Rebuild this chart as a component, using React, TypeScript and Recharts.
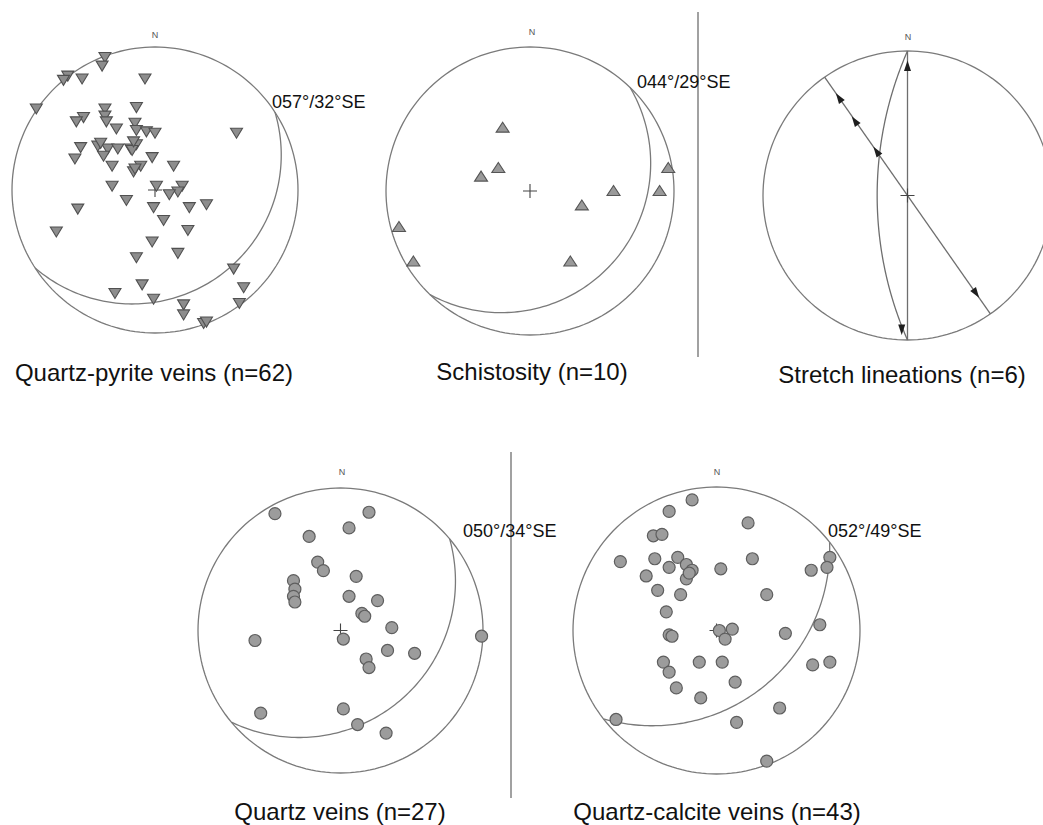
import React from 'react';
import { ScatterChart, Scatter, XAxis, YAxis } from 'recharts';

type P = [number, number];

// Poles / lineations, in percent of the net radius (x = east, y = north)
const quartzPyritePoles: P[] = [
  [-35, 93], [-37, 87], [-61, 80], [-64, 77], [-51, 78], [-7, 78], [-83, 57], [-35, 57], [-13, 58], [-50, 51],
  [-55, 48], [-35, 52], [-34, 48], [-27, 43], [-14, 47], [-13, 42], [-6, 41], [0, 40], [57, 40], [-52, 30],
  [-40, 31], [-33, 29], [-26, 29], [-17, 29], [-13, 32], [-56, 22], [-36, 24], [-16, 28], [-30, 17], [-2, 23],
  [13, 17], [-10, 17], [-15, 13], [-30, 3], [1, 3], [19, 3], [16, -1], [10, -3], [-20, -7], [-1, -12],
  [-54, -13], [24, -12], [36, -10], [6, -21], [-69, -29], [23, -28], [-2, -36], [16, -44], [-13, -47], [55, -55],
  [62, -68], [-9, -66], [-28, -72], [-1, -76], [59, -79], [20, -80], [20, -87], [34, -93], [36, -92], [-38, 33],
  [-15, 34], [-14, 15],
];

const schistosityPoles: P[] = [
  [-19, 44], [-22, 16], [-34, 10], [36, -10], [58, 0], [96, 16], [90, 0], [-91, -25], [-81, -49], [28, -49],
];

const quartzVeinPoles: P[] = [
  [-46, 82], [20, 83], [6, 72], [-22, 66], [-16, 48], [-12, 42], [11, 38], [-33, 35], [-32, 29], [-33, 24],
  [-32, 20], [6, 24], [26, 21], [15, 12], [17, 10], [36, 2], [2, -6], [-60, -7], [33, -14], [52, -16],
  [18, -20], [20, -26], [99, -4], [-56, -58], [2, -55], [12, -66], [32, -72],
];

const quartzCalcitePoles: P[] = [
  [-17, 91], [-33, 83], [22, 75], [-44, 66], [-38, 67], [-67, 48], [-43, 50], [-27, 51], [-33, 44], [-21, 46],
  [-17, 42], [-21, 36], [-49, 38], [3, 43], [25, 50], [66, 42], [79, 51], [77, 44], [-41, 28], [-25, 25],
  [35, 25], [-35, 13], [-33, -3], [-31, -4], [2, 0], [11, 1], [6, -6], [48, -2], [72, 4], [-37, -22],
  [-33, -29], [-12, -22], [4, -22], [67, -24], [79, -22], [-28, -40], [-11, -47], [13, -36], [44, -54], [14, -64],
  [-70, -62], [35, -91], [-19, 40],
];

const lineationPos: P[] = [[0, 89], [-4, -92], [-47, 67], [-36, 51], [-21, 30], [47, -67]];
const lineationTrend = [0, 180, 325, 325, 325, 145];

// great circles on the lineation net: strike, dip direction, drawn reach (0 = vertical)
const lineGcStrike = [0, 145, 0];
const lineGcDipDir = [90, 235, 270];
const lineGcReach = [0, 0, 0.21];

// mean planes
const planeStrike = [57, 44, 50, 52];
const planeDip = [32, 29, 34, 49];
const planeReach = [0.75, 0.76, 0.645, 0.51];
const planeLabels = planeStrike.map((s, i) => `${String(s).padStart(3, '0')}°/${planeDip[i]}°SE`);

const netTitles = [
  'Quartz-pyrite veins (n=62)',
  'Schistosity (n=10)',
  'Stretch lineations (n=6)',
  'Quartz veins (n=27)',
  'Quartz-calcite veins (n=43)',
];

// ---------- layout ----------
const NETS = [
  { cx: 154.5, cy: 190.3, r: 143 },
  { cx: 530, cy: 191, r: 144 },
  { cx: 907, cy: 195.5, r: 144.5 },
  { cx: 340, cy: 630.5, r: 142.5 },
  { cx: 716.5, cy: 630.5, r: 143.5 },
];
const TITLE_POS = [[154, 381], [532, 380], [902, 383], [340, 820], [717, 820]];
const LABEL_POS = [[272, 108], [637, 88], [463, 537], [828, 537]];
const N_POS = [[155, 38], [532, 35], [908, 40], [342, 475], [717, 475]];

const FONT = '"Liberation Sans", Arial, Helvetica, sans-serif';
const LINE = '#7a7a7a';
const rad = Math.PI / 180;

const toXY = (pts: P[]) => pts.map(([x, y]) => ({ x: x / 100, y: y / 100 }));

const primitive = Array.from({ length: 181 }, (_, i) => {
  const a = i * 2 * rad;
  return { x: Math.sin(a), y: Math.cos(a) };
});

function gcArc(strike: number, dipDir: number, f: number) {
  const s = [Math.sin(strike * rad), Math.cos(strike * rad)];
  if (f <= 0) return [{ x: -s[0], y: -s[1] }, { x: s[0], y: s[1] }];
  const u = [Math.sin(dipDir * rad), Math.cos(dipDir * rad)];
  const delta = Math.PI / 2 - 2 * Math.atan(f);
  const t = Math.tan(delta);
  const rho = 1 / Math.cos(delta);
  const alpha = Math.PI / 2 - delta;
  const n = 120;
  const out: { x: number; y: number }[] = [];
  for (let i = 0; i <= n; i++) {
    const tt = -alpha + (2 * alpha * i) / n;
    out.push({
      x: -u[0] * t + rho * (u[0] * Math.cos(tt) + s[0] * Math.sin(tt)),
      y: -u[1] * t + rho * (u[1] * Math.cos(tt) + s[1] * Math.sin(tt)),
    });
  }
  return out;
}

const Empty = () => <g />;

const Cross = (p: any) => (
  <path
    d={`M${p.cx - 7},${p.cy}H${p.cx + 7}M${p.cx},${p.cy - 7}V${p.cy + 7}`}
    stroke="#444"
    strokeWidth={1.1}
    fill="none"
  />
);

const DownTri = (p: any) => (
  <polygon
    points={`${p.cx - 6},${p.cy - 4.5} ${p.cx + 6},${p.cy - 4.5} ${p.cx},${p.cy + 5.5}`}
    fill="#8d8d8d"
    stroke="#505050"
    strokeWidth={1.1}
  />
);

const UpTri = (p: any) => (
  <polygon
    points={`${p.cx - 6.5},${p.cy + 4.5} ${p.cx + 6.5},${p.cy + 4.5} ${p.cx},${p.cy - 5.5}`}
    fill="#9a9a9a"
    stroke="#555"
    strokeWidth={1.1}
  />
);

const Dot = (p: any) => <circle cx={p.cx} cy={p.cy} r={6} fill="#9c9c9c" stroke="#5e5e5e" strokeWidth={1.2} />;

const Arrow = (p: any) => {
  const trend = p.payload?.trend ?? p.trend ?? 0;
  return (
    <polygon
      points="0,-6.5 -3.5,4 3.5,4"
      transform={`translate(${p.cx},${p.cy}) rotate(${trend})`}
      fill="#1e1e1e"
    />
  );
};

function lineSeries(key: string, data: { x: number; y: number }[], color = LINE, w = 1.3) {
  return (
    <Scatter
      key={key}
      data={data}
      fill={color}
      line={{ stroke: color, strokeWidth: w }}
      shape={Empty}
      isAnimationActive={false}
    />
  );
}

function Net({ cx, cy, r, series }: { cx: number; cy: number; r: number; series: React.ReactNode[] }) {
  const pad = 24;
  const size = 2 * r + 2 * pad;
  return (
    <div style={{ position: 'absolute', left: cx - r - pad, top: cy - r - pad }}>
      <ScatterChart width={size} height={size} margin={{ top: pad, right: pad, bottom: pad, left: pad }}>
        <XAxis type="number" dataKey="x" domain={[-1, 1]} hide />
        <YAxis type="number" dataKey="y" domain={[-1, 1]} hide />
        {series}
      </ScatterChart>
    </div>
  );
}

const centre = [{ x: 0, y: 0 }];

export default function App() {
  const planeArcs = planeStrike.map((s, i) => gcArc(s, s + 90, planeReach[i]));
  const poleSets = [quartzPyritePoles, schistosityPoles, null, quartzVeinPoles, quartzCalcitePoles];
  const shapes = [DownTri, UpTri, null, Dot, Dot];
  const arcIndex = [0, 1, -1, 2, 3];

  const nets = NETS.map((n, k) => {
    const series: React.ReactNode[] = [lineSeries('prim', primitive)];
    if (k === 2) {
      lineGcStrike.forEach((s, i) => series.push(lineSeries('gc' + i, gcArc(s, lineGcDipDir[i], lineGcReach[i]), '#6e6e6e', 1.3)));
      series.push(<Scatter key="c" data={centre} shape={Cross} isAnimationActive={false} />);
      const arrows = lineationPos.map(([x, y], i) => ({ x: x / 100, y: y / 100, trend: lineationTrend[i] }));
      series.push(<Scatter key="arr" data={arrows} shape={Arrow} isAnimationActive={false} />);
    } else {
      series.push(lineSeries('plane', planeArcs[arcIndex[k]]));
      series.push(<Scatter key="c" data={centre} shape={Cross} isAnimationActive={false} />);
      series.push(
        <Scatter key="pts" data={toXY(poleSets[k] as P[])} shape={shapes[k] as any} isAnimationActive={false} />
      );
    }
    return <Net key={k} cx={n.cx} cy={n.cy} r={n.r} series={series} />;
  });

  return (
    <div
      style={{
        position: 'absolute',
        left: 0,
        top: 0,
        width: 1043,
        height: 825,
        overflow: 'hidden',
        background: '#fff',
      }}
    >
      {nets}
      <svg
        width={1043}
        height={825}
        style={{ position: 'absolute', left: 0, top: 0, pointerEvents: 'none' }}
        fontFamily={FONT}
      >
        <line x1={698} y1={12} x2={698} y2={357} stroke="#8a8a8a" strokeWidth={1.6} />
        <line x1={511} y1={452} x2={511} y2={798} stroke="#8a8a8a" strokeWidth={1.6} />
        {N_POS.map(([x, y], i) => (
          <text key={'n' + i} x={x} y={y} fontSize={9} fill="#555" textAnchor="middle">
            N
          </text>
        ))}
        {planeLabels.map((t, i) => (
          <text key={'l' + i} x={LABEL_POS[i][0]} y={LABEL_POS[i][1]} fontSize={18} fill="#111">
            {t}
          </text>
        ))}
        {netTitles.map((t, i) => (
          <text key={'t' + i} x={TITLE_POS[i][0]} y={TITLE_POS[i][1]} fontSize={24} fill="#111" textAnchor="middle">
            {t}
          </text>
        ))}
      </svg>
    </div>
  );
}
